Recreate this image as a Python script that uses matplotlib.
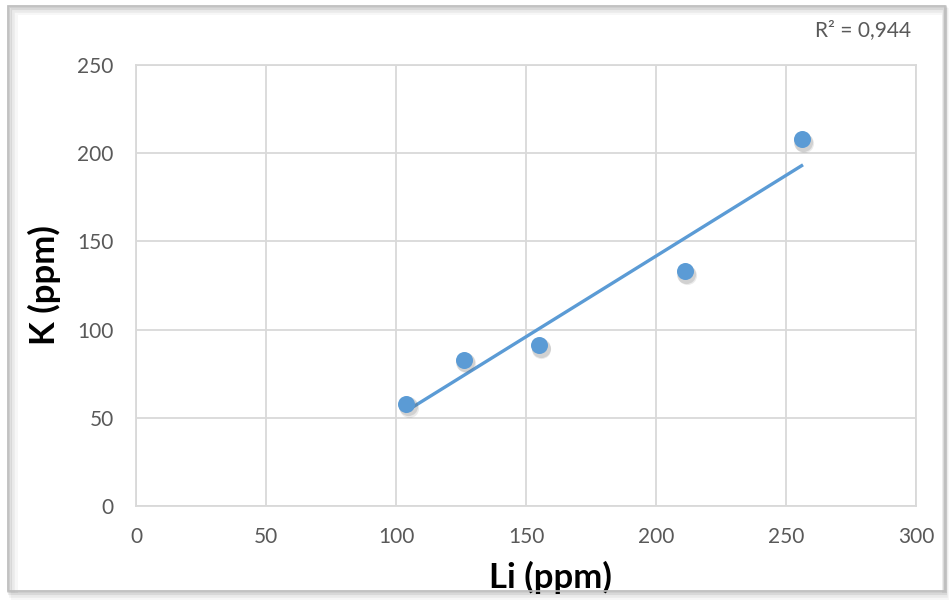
import numpy as np
import matplotlib.pyplot as plt
from matplotlib.patches import Rectangle

# data
li = [104, 126, 155, 211, 256]
k = [58, 83, 91, 133, 208]
xticks = [0, 50, 100, 150, 200, 250, 300]
yticks = [0, 50, 100, 150, 200, 250]

blue = '#5B9BD5'
grey_txt = '#595959'
grid_c = '#D9D9D9'

plt.rcParams['font.family'] = ['Lato', 'DejaVu Sans']

fig = plt.figure(figsize=(9.52, 6.01), dpi=100)
fig.patch.set_facecolor('white')

# outer chart frame with a soft shadow
for i, a in enumerate([0.10, 0.07, 0.05, 0.03]):
    fig.patches.append(Rectangle((8 / 952 + i * 0.002, 10 / 601 - i * 0.003),
                                 (937 - 2 * i) / 952, 585 / 601,
                                 transform=fig.transFigure, fill=False,
                                 edgecolor='black', alpha=a, lw=2 + i))
fig.patches.append(Rectangle((8 / 952, 10 / 601), 937 / 952, 585 / 601,
                             transform=fig.transFigure, fill=False,
                             edgecolor='#BFBFBF', lw=1.2))

ax = fig.add_axes([136 / 952, 1 - 506 / 601, 780 / 952, 441 / 601])
ax.set_xlim(0, 300)
ax.set_ylim(0, 250)
ax.set_xticks(xticks)
ax.set_yticks(yticks)
ax.grid(True, color=grid_c, lw=1.3)
ax.set_axisbelow(True)
for s in ax.spines.values():
    s.set_color(grid_c)
    s.set_linewidth(1.3)
ax.tick_params(length=0, labelsize=15, colors=grey_txt, pad=15)
ax.tick_params(axis='y', pad=16)

# trendline from least squares fit
coef = np.polyfit(li, k, 1)
xs = np.array([min(li), max(li)])
ax.plot(xs, np.polyval(coef, xs), color=blue, lw=2.4, zorder=3)
r2 = np.corrcoef(li, k)[0, 1] ** 2

# markers with shadow
for off, a in [(2.2, 0.12), (1.5, 0.18)]:
    ax.scatter(np.array(li) + off * 0.4, np.array(k) - off, s=190, color='#606060',
               alpha=a, lw=0, zorder=3)
ax.scatter(li, k, s=150, color=blue, lw=0, zorder=4)

ax.set_xlabel('Li (ppm)', fontsize=25, fontweight='bold', va='center')
ax.xaxis.set_label_coords(0.531, -0.163)
ax.set_ylabel('K (ppm)', fontsize=25, fontweight='bold', va='center')
ax.yaxis.set_label_coords(-0.117, 0.501)

fig.text(863 / 952, 1 - 30 / 601, 'R² = ' + f'{r2:.3f}'.replace('.', ','),
         ha='center', va='center', fontsize=15, color=grey_txt)

fig.savefig('out.png', dpi=100)
